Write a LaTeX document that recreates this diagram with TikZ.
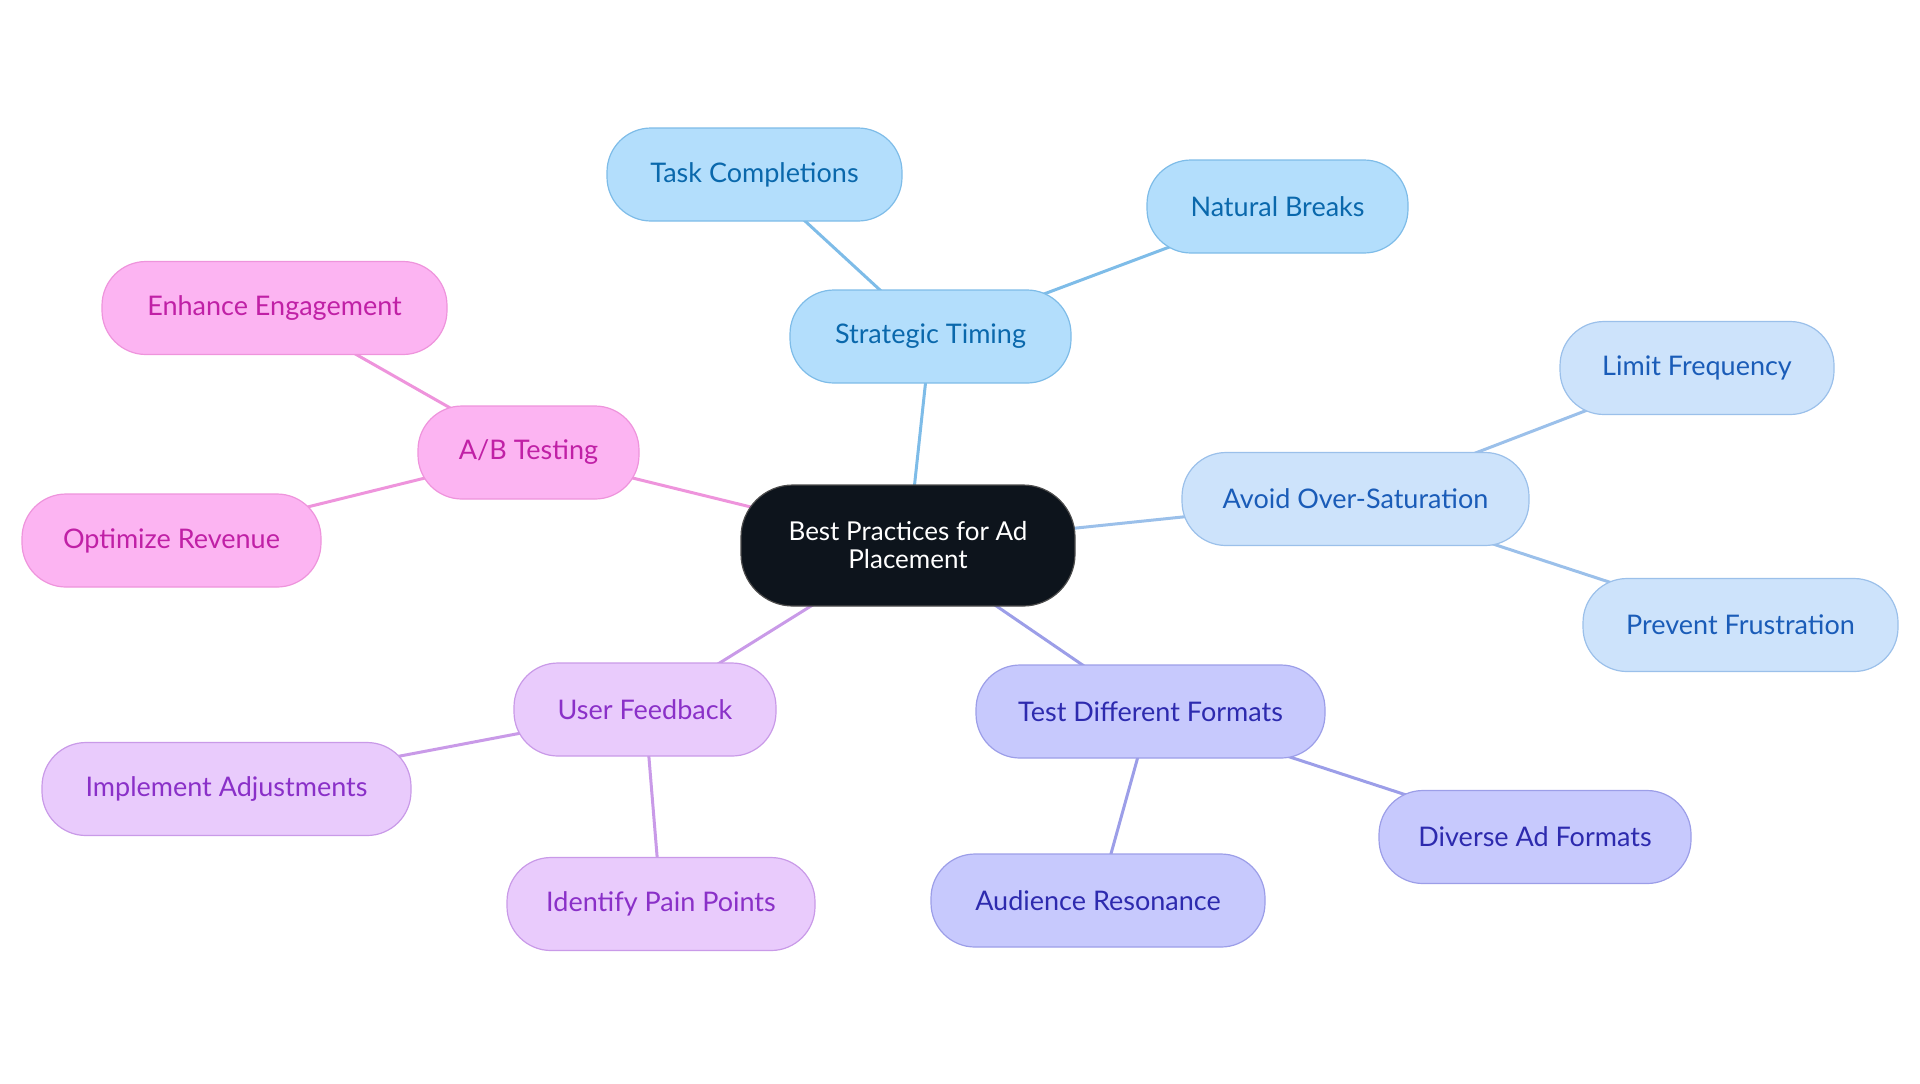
\documentclass[tikz,border=0pt]{standalone}
\usepackage{fontspec}
\setmainfont{Lato}
\usetikzlibrary{positioning,shapes,backgrounds}

\definecolor{rootfill}{HTML}{0D141C}
\definecolor{timefill}{HTML}{B3DEFC}\definecolor{timeline}{HTML}{7EBCE8}\definecolor{timetext}{HTML}{0A68AC}
\definecolor{satfill}{HTML}{CDE3FB}\definecolor{satline}{HTML}{9BC0EA}\definecolor{sattext}{HTML}{1A5CB8}
\definecolor{fmtfill}{HTML}{C7C9FD}\definecolor{fmtline}{HTML}{9C9EE8}\definecolor{fmttext}{HTML}{2D2AAE}
\definecolor{usrfill}{HTML}{E9CBFC}\definecolor{usrline}{HTML}{C99AE8}\definecolor{usrtext}{HTML}{8A30C8}
\definecolor{abfill}{HTML}{FCB4F2}\definecolor{abline}{HTML}{EE94DC}\definecolor{abtext}{HTML}{C020A6}

\begin{document}
\begin{tikzpicture}[x=0.5pt, y=-0.5pt,
    idea/.style={rounded corners=22pt, minimum height=46.5pt, line width=0.6pt, align=center,
      font=\fontsize{13.5}{14}\selectfont},
    root/.style={idea, fill=rootfill, draw=black!70, text=white, minimum height=60.5pt, rounded corners=26pt,
      font=\fontsize{13}{14}\selectfont},
    timing/.style={idea, fill=timefill, draw=timeline, text=timetext},
    satur/.style={idea, fill=satfill, draw=satline, text=sattext},
    formats/.style={idea, fill=fmtfill, draw=fmtline, text=fmttext},
    users/.style={idea, fill=usrfill, draw=usrline, text=usrtext},
    abtest/.style={idea, fill=abfill, draw=abline, text=abtext},
    link/.style={line width=1.5pt}]
  \useasboundingbox (0,0) rectangle (1920,1083);

  \node[root, minimum width=167pt] (R) at (908,545.5) {Best Practices for Ad\\Placement};

  \node[timing, minimum width=140.5pt] (T) at (930.5,336.5) {Strategic Timing};
  \node[timing, minimum width=147.5pt] (T1) at (754.5,174.5) {Task Completions};
  \node[timing, minimum width=130.5pt] (T2) at (1277.5,206.5) {Natural Breaks};

  \node[satur, minimum width=173.5pt] (S) at (1355.5,499) {Avoid Over-Saturation};
  \node[satur, minimum width=137pt] (S1) at (1697,368) {Limit Frequency};
  \node[satur, minimum width=157.5pt] (S2) at (1740.5,625) {Prevent Frustration};

  \node[formats, minimum width=174.5pt] (F) at (1150.5,711.5) {Test Different Formats};
  \node[formats, minimum width=156pt] (F1) at (1535,837) {Diverse Ad Formats};
  \node[formats, minimum width=167pt] (F2) at (1098,900.5) {Audience Resonance};

  \node[users, minimum width=131pt] (U) at (645,709.5) {User Feedback};
  \node[users, minimum width=184.5pt] (U1) at (226.5,789) {Implement Adjustments};
  \node[users, minimum width=154pt] (U2) at (661,904) {Identify Pain Points};

  \node[abtest, minimum width=110.5pt] (A) at (528.5,452.5) {A/B Testing};
  \node[abtest, minimum width=172.5pt] (A1) at (274.5,308) {Enhance Engagement};
  \node[abtest, minimum width=149.5pt] (A2) at (171.5,540.5) {Optimize Revenue};

  \begin{pgfonlayer}{background}
    \draw[link, timeline] (R.center) -- (T.center);
    \draw[link, timeline] (T.center) -- (T1.center);
    \draw[link, timeline] (T.center) -- (T2.center);
    \draw[link, satline] (R.center) -- (S.center);
    \draw[link, satline] (S.center) -- (S1.center);
    \draw[link, satline] (S.center) -- (S2.center);
    \draw[link, fmtline] (R.center) -- (F.center);
    \draw[link, fmtline] (F.center) -- (F1.center);
    \draw[link, fmtline] (F.center) -- (F2.center);
    \draw[link, usrline] (R.center) -- (U.center);
    \draw[link, usrline] (U.center) -- (U1.center);
    \draw[link, usrline] (U.center) -- (U2.center);
    \draw[link, abline] (R.center) -- (A.center);
    \draw[link, abline] (A.center) -- (A1.center);
    \draw[link, abline] (A.center) -- (A2.center);
  \end{pgfonlayer}
\end{tikzpicture}
\end{document}
